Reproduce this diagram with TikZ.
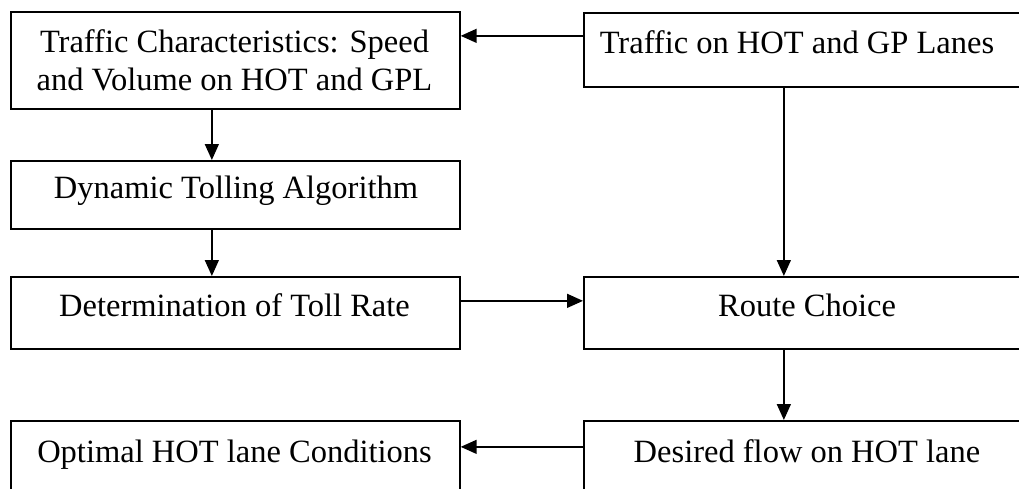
\documentclass[tikz,border=0pt]{standalone}
\usepackage{fontspec}
\setmainfont{Liberation Serif}
\usetikzlibrary{arrows.meta}
\tikzset{
  box/.style={draw, line width=1.7pt, inner sep=0pt, anchor=north west, minimum width=449pt},
  lbl/.style={anchor=base, inner sep=0pt, font=\fontsize{32.5}{38}\selectfont},
  arr/.style={line width=1.5pt, -{Triangle[length=16pt, width=14pt]}}
}
\begin{document}
\begin{tikzpicture}[x=1pt,y=1pt]
\useasboundingbox (0,0) rectangle (1019,-488);
\clip (0,0) rectangle (1019,-488);
% boxes
\node[box, minimum height=97pt] (b1) at (10,-11) {};
\node[box, minimum height=74pt, minimum width=448pt] (b2) at (583,-12) {};
\node[box, minimum height=68pt] (b3) at (10,-160) {};
\node[box, minimum height=72pt] (b4) at (10,-276) {};
\node[box, minimum height=72pt, minimum width=448pt] (b5) at (583,-276) {};
\node[box, minimum height=74pt] (b6) at (10,-420) {};
\node[box, minimum height=74pt, minimum width=448pt] (b7) at (583,-420) {};
% labels
\node[lbl] (l1a) at (234.5,-52) {Traffic Characteristics: Speed};
\node[lbl] (l1b) at (234.5,-90) {and Volume on HOT and GPL};
\node[lbl] (l2) at (797,-53) {Traffic on HOT and GP Lanes};
\node[lbl] (l3) at (236,-198) {Dynamic Tolling Algorithm};
\node[lbl] (l4) at (234.5,-316) {Determination of Toll Rate};
\node[lbl] (l5) at (807,-316) {Route Choice};
\node[lbl] (l6) at (234.5,-462) {Optimal HOT lane Conditions};
\node[lbl] (l7) at (807,-462) {Desired flow on HOT lane};
% connectors
\draw[arr] ([yshift=14pt]b2.west) -- ([yshift=14pt]b2.west -| b1.east);
\draw[arr] ([xshift=-23.5pt]b1.south) -- ([xshift=-23.5pt]b3.north);
\draw[arr] ([xshift=-23.5pt]b3.south) -- ([xshift=-23.5pt]b4.north);
\draw[arr] ([xshift=-24pt]b2.south) -- ([xshift=-24pt]b5.north);
\draw[arr] ([yshift=12pt]b4.east) -- ([yshift=12pt]b5.west);
\draw[arr] ([xshift=-24pt]b5.south) -- ([xshift=-24pt]b7.north);
\draw[arr] ([yshift=11pt]b7.west) -- ([yshift=11pt]b7.west -| b6.east);
\end{tikzpicture}
\end{document}
